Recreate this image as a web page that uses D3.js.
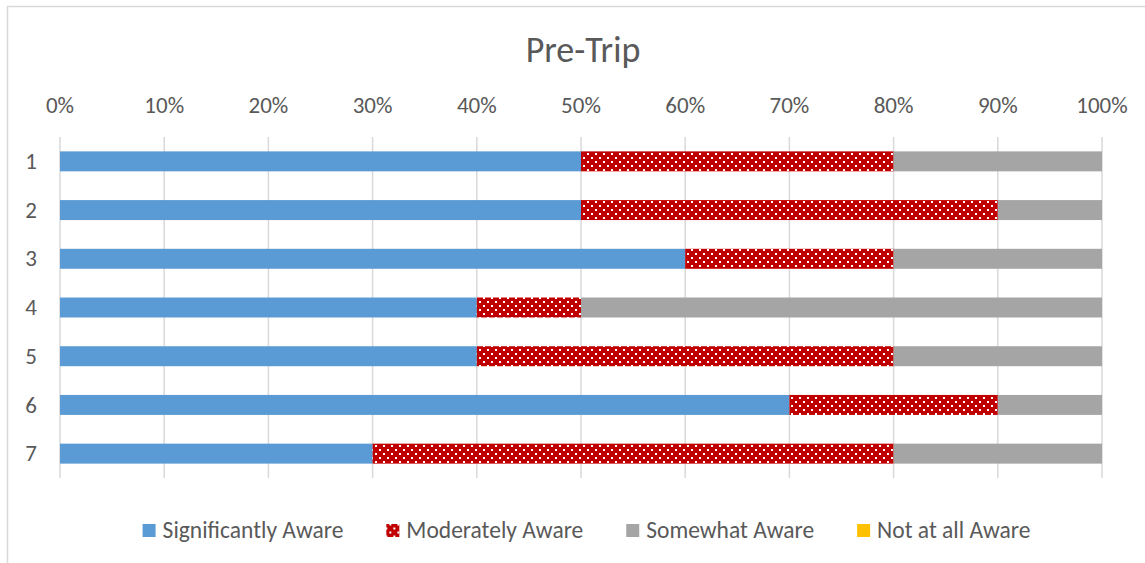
<!DOCTYPE html>
<html>
<head>
<meta charset="utf-8">
<script src="https://cdn.jsdelivr.net/npm/d3@7"></script>
<style>
  body { margin: 0; background: #fff; }
  svg { display: block; font-family: Calibri, Carlito, "Open Sans", sans-serif; }
</style>
</head>
<body>
<div id="chart"></div>
<script>
const categories = ['1', '2', '3', '4', '5', '6', '7'];
const seriesNames = ['Significantly Aware', 'Moderately Aware', 'Somewhat Aware', 'Not at all Aware'];
const significantly = [50, 50, 60, 40, 40, 70, 30];
const moderately = [30, 40, 20, 10, 40, 20, 50];
const somewhat = [20, 10, 20, 50, 20, 10, 20];
const notAtAll = [0, 0, 0, 0, 0, 0, 0];
const tickValues = [0, 10, 20, 30, 40, 50, 60, 70, 80, 90, 100];

const width = 1145;
const height = 563;
const margin = { top: 137, right: 43, bottom: 85, left: 60 };

const svg = d3.create('svg')
  .attr('width', width)
  .attr('height', height);
d3.select('#chart').append(() => svg.node());

const defs = svg.append('defs');
const pat = defs.append('pattern')
  .attr('id', 'dots')
  .attr('patternUnits', 'userSpaceOnUse')
  .attr('width', 8)
  .attr('height', 8);
pat.append('rect').attr('width', 8).attr('height', 8).attr('fill', '#C00000');
pat.append('rect').attr('x', 3).attr('y', 1).attr('width', 2).attr('height', 2).attr('fill', '#fff');
pat.append('rect').attr('x', 7).attr('y', 5).attr('width', 2).attr('height', 2).attr('fill', '#fff');
pat.append('rect').attr('x', -1).attr('y', 5).attr('width', 2).attr('height', 2).attr('fill', '#fff');

const colors = ['#5B9BD5', 'url(#dots)', '#A5A5A5', '#FFC000'];

// chart border (right and bottom edges fall outside the picture)
svg.append('rect')
  .attr('x', 7.5).attr('y', 6.5)
  .attr('width', width + 10).attr('height', height + 10)
  .attr('fill', 'none')
  .attr('stroke', '#d9d9d9')
  .attr('stroke-width', 1.5);

svg.append('text')
  .attr('x', 583)
  .attr('y', 62)
  .attr('text-anchor', 'middle')
  .attr('font-size', 36)
  .attr('fill', '#595959')
  .text('Pre-Trip');

const x = d3.scaleLinear()
  .domain([0, 100])
  .range([margin.left, width - margin.right]);

const y = d3.scaleBand()
  .domain(categories)
  .range([margin.top, height - margin.bottom])
  .paddingInner(0.59)
  .paddingOuter(0.295);

// gridlines
svg.append('g')
  .selectAll('line')
  .data(tickValues)
  .join('line')
  .attr('x1', d => x(d)).attr('x2', d => x(d))
  .attr('y1', margin.top).attr('y2', height - margin.bottom)
  .attr('stroke', '#d9d9d9')
  .attr('stroke-width', 1.5);

// tick labels
svg.append('g')
  .selectAll('text')
  .data(tickValues)
  .join('text')
  .attr('x', d => x(d))
  .attr('y', 113)
  .attr('text-anchor', 'middle')
  .attr('font-size', 23)
  .attr('fill', '#595959')
  .text(d => d + '%');

svg.append('g')
  .selectAll('text')
  .data(categories)
  .join('text')
  .attr('x', 31)
  .attr('y', d => y(d) + y.bandwidth() / 2)
  .attr('dy', '0.33em')
  .attr('text-anchor', 'middle')
  .attr('font-size', 23)
  .attr('fill', '#595959')
  .text(d => d);

const values = [significantly, moderately, somewhat, notAtAll];
const rows = categories.map((c, i) => {
  const r = { cat: c };
  seriesNames.forEach((s, j) => { r[s] = values[j][i]; });
  return r;
});
const stacked = d3.stack().keys(seriesNames)(rows);

svg.append('g')
  .selectAll('g')
  .data(stacked)
  .join('g')
  .attr('fill', (d, i) => colors[i])
  .selectAll('rect')
  .data(d => d)
  .join('rect')
  .attr('x', d => x(d[0]))
  .attr('y', d => y(d.data.cat))
  .attr('width', d => x(d[1]) - x(d[0]))
  .attr('height', y.bandwidth());

// legend
const legend = svg.append('g');
const items = legend.selectAll('g')
  .data(seriesNames)
  .join('g');
items.append('rect')
  .attr('width', 13).attr('height', 13)
  .attr('y', -6.5)
  .attr('fill', (d, i) => colors[i]);
items.append('text')
  .attr('x', 20)
  .attr('dy', '0.33em')
  .attr('font-size', 23.5)
  .attr('fill', '#595959')
  .text(d => d);
const gap = 43;
let pos = 0;
items.each(function () {
  const w = this.querySelector('text').getComputedTextLength();
  d3.select(this).attr('transform', `translate(${pos},0)`);
  pos += 20 + w + gap;
});
pos -= gap;
legend.attr('transform', `translate(${586.5 - pos / 2},530.5)`);
</script>
</body>
</html>
